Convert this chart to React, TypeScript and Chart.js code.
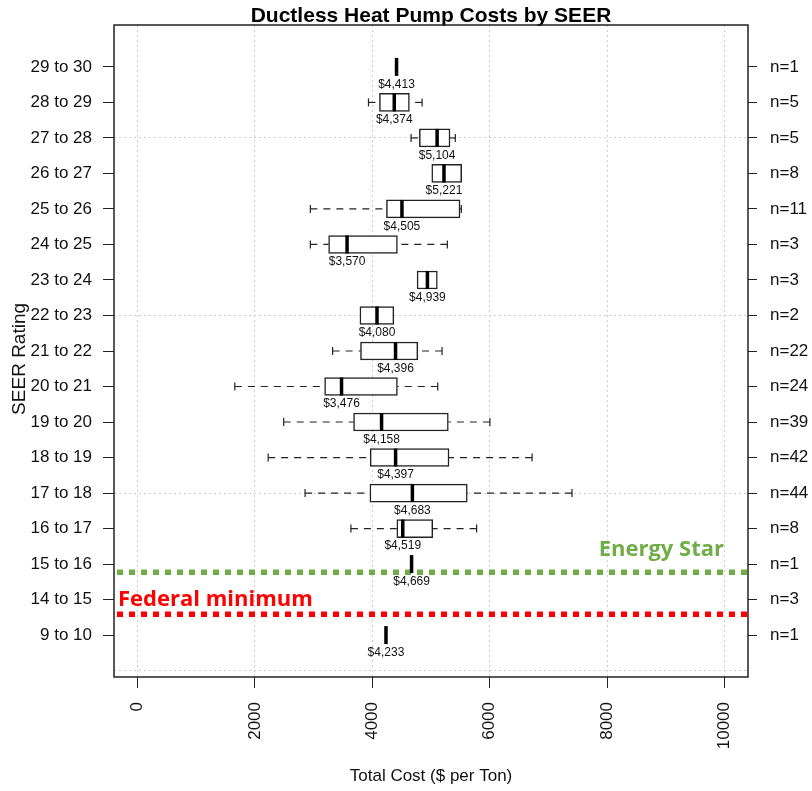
import React, { useEffect, useRef } from 'react';
import { Chart, registerables } from 'chart.js';

Chart.register(...registerables);

const categories = [
  '29 to 30', '28 to 29', '27 to 28', '26 to 27', '25 to 26', '24 to 25',
  '23 to 24', '22 to 23', '21 to 22', '20 to 21', '19 to 20', '18 to 19',
  '17 to 18', '16 to 17', '15 to 16', '14 to 15', '9 to 10',
];
const counts = [1, 5, 5, 8, 11, 3, 3, 2, 22, 24, 39, 42, 44, 8, 1, 3, 1];
const whiskerLow = [null, 3935, 4661, null, 2945, 2945, null, null, 3324, 1658, 2491, 2226, 2855, 3636, null, null, null];
const q1 = [null, 4122, 4802, 5013, 4241, 3256, 4763, 3789, 3799, 3188, 3681, 3964, 3959, 4418, null, null, null];
const medians = [4413, 4374, 5104, 5221, 4505, 3570, 4939, 4080, 4396, 3476, 4158, 4397, 4683, 4519, 4669, null, 4233];
const q3 = [null, 4632, 5324, 5522, 5494, 4428, 5108, 4367, 4775, 4428, 5295, 5307, 5618, 5030, null, null, null];
const whiskerHigh = [null, 4848, 5414, null, 5516, 5278, null, null, 5188, 5115, 6003, 6722, 7402, 5777, null, null, null];
const xTickValues = [0, 2000, 4000, 6000, 8000, 10000];
const energyStarLevel = 2.77;
const federalMinLevel = 1.59;

const FONT = '"Liberation Sans", Arial, sans-serif';
const rowValue = (i: number) => categories.length - i;
const yTickValues = [0, ...categories.map((_, i) => i + 1)];

const boxPlugin = {
  id: 'boxExtras',
  beforeDatasetsDraw(chart: any) {
    const { ctx, scales } = chart;
    const x = scales.x, y = scales.y;
    ctx.save();
    ctx.strokeStyle = '#222';
    ctx.lineWidth = 1.2;
    categories.forEach((_, i) => {
      const py = y.getPixelForValue(rowValue(i));
      const pairs: [number | null, number | null][] = [[whiskerLow[i], q1[i]], [whiskerHigh[i], q3[i]]];
      for (const [w, b] of pairs) {
        if (w == null || b == null) continue;
        const pw = x.getPixelForValue(w);
        const pb = x.getPixelForValue(b);
        ctx.setLineDash([7, 6]);
        ctx.beginPath();
        ctx.moveTo(pw, py);
        ctx.lineTo(pb, py);
        ctx.stroke();
        ctx.setLineDash([]);
        ctx.beginPath();
        ctx.moveTo(pw, py - 4);
        ctx.lineTo(pw, py + 4);
        ctx.stroke();
      }
    });
    ctx.restore();
  },
  afterDatasetsDraw(chart: any) {
    const { ctx, scales, chartArea } = chart;
    const x = scales.x, y = scales.y;
    ctx.save();
    const drawRef = (level: number, color: string) => {
      const py = y.getPixelForValue(level);
      ctx.strokeStyle = color;
      ctx.lineWidth = 5.5;
      ctx.setLineDash([6, 6]);
      ctx.beginPath();
      ctx.moveTo(chartArea.left + 3, py);
      ctx.lineTo(chartArea.right, py);
      ctx.stroke();
      ctx.setLineDash([]);
      return py;
    };
    const pg = drawRef(energyStarLevel, '#70AD47');
    const pr = drawRef(federalMinLevel, '#FF0000');
    ctx.font = 'bold 22px "Open Sans", sans-serif';
    ctx.textBaseline = 'alphabetic';
    ctx.fillStyle = '#70AD47';
    ctx.textAlign = 'right';
    ctx.fillText('Energy Star', chartArea.right - 24, pg - 16.5);
    ctx.fillStyle = '#FF0000';
    ctx.textAlign = 'left';
    ctx.fillText('Federal minimum', chartArea.left + 4, pr - 8.5);

    categories.forEach((_, i) => {
      const m = medians[i];
      if (m == null) return;
      const py = y.getPixelForValue(rowValue(i));
      const px = x.getPixelForValue(m);
      ctx.strokeStyle = '#000';
      ctx.lineWidth = 3.5;
      ctx.beginPath();
      ctx.moveTo(px, py - 9);
      ctx.lineTo(px, py + 9);
      ctx.stroke();
      ctx.fillStyle = '#111';
      ctx.font = '12px ' + FONT;
      ctx.textAlign = 'center';
      ctx.textBaseline = 'middle';
      ctx.fillText('$' + m.toLocaleString('en-US'), px, py + 17.5);
    });
    ctx.restore();
  },
  afterDraw(chart: any) {
    const { ctx, chartArea } = chart;
    ctx.save();
    ctx.strokeStyle = '#222';
    ctx.lineWidth = 1.5;
    ctx.strokeRect(chartArea.left, chartArea.top, chartArea.right - chartArea.left, chartArea.bottom - chartArea.top);
    ctx.restore();
  },
};

export default function App() {
  const ref = useRef<HTMLCanvasElement>(null);
  useEffect(() => {
    const boxData = categories
      .map((_, i) => (q1[i] != null && q3[i] != null ? { x: [q1[i], q3[i]], y: rowValue(i) } : null))
      .filter((d) => d !== null);
    const chart = new Chart(ref.current as HTMLCanvasElement, {
      type: 'bar',
      data: {
        datasets: [
          {
            label: 'IQR',
            data: boxData as any,
            backgroundColor: '#ffffff',
            borderColor: '#222',
            borderWidth: 1.5,
            borderSkipped: false,
            barThickness: 18,
            xAxisID: 'x',
            yAxisID: 'y',
          },
        ],
      },
      options: {
        indexAxis: 'y',
        animation: false,
        responsive: false,
        devicePixelRatio: 1,
        layout: { padding: 0 },
        plugins: {
          legend: { display: false },
          tooltip: { enabled: false },
          title: {
            display: true,
            fullSize: false,
            text: 'Ductless Heat Pump Costs by SEER',
            color: '#000',
            font: { family: FONT, size: 21, weight: 'bold', lineHeight: 0.8 },
            padding: { top: 8.2, bottom: 0 },
          },
        },
        scales: {
          x: {
            type: 'linear',
            position: 'bottom',
            min: -400,
            max: 10400,
            afterBuildTicks: (s: any) => { s.ticks = xTickValues.map((v) => ({ value: v })); },
            afterFit: (s: any) => { s.height = 114; },
            ticks: {
              autoSkip: false,
              minRotation: 90,
              maxRotation: 90,
              padding: 14,
              color: '#111',
              font: { family: FONT, size: 17 },
              callback: (v: any) => String(v),
            },
            grid: { color: '#cccccc', tickColor: '#222', tickLength: 11, lineWidth: 1 },
            border: { display: false, dash: [2, 3] },
            title: {
              display: true,
              text: 'Total Cost ($ per Ton)',
              color: '#111',
              font: { family: FONT, size: 17 },
              padding: { top: 0, bottom: 4 },
            },
          },
          y: {
            type: 'linear',
            position: 'left',
            min: -0.18,
            max: 18.18,
            offset: false,
            afterBuildTicks: (s: any) => { s.ticks = yTickValues.map((v) => ({ value: v })); },
            afterFit: (s: any) => { s.width = 114; },
            ticks: {
              autoSkip: false,
              padding: 11,
              color: '#111',
              font: { family: FONT, size: 17 },
              callback: (v: any) => (v === 0 ? '' : categories[categories.length - v]),
            },
            grid: {
              offset: false,
              color: (c: any) => (c.tick && c.tick.value % 5 === 0 ? '#cccccc' : 'rgba(0,0,0,0)'),
              tickColor: (c: any) => (c.tick && c.tick.value === 0 ? 'rgba(0,0,0,0)' : '#222'),
              tickLength: 11,
              lineWidth: 1,
            },
            border: { display: false, dash: [2, 3] },
            title: {
              display: true,
              text: 'SEER Rating   ',
              color: '#111',
              font: { family: FONT, size: 19 },
              padding: { top: 8, bottom: 0 },
            },
          },
          y2: {
            type: 'linear',
            position: 'right',
            min: -0.18,
            max: 18.18,
            offset: false,
            afterBuildTicks: (s: any) => { s.ticks = categories.map((_, i) => ({ value: i + 1 })); },
            afterFit: (s: any) => { s.width = 64; },
            ticks: {
              autoSkip: false,
              padding: 13,
              color: '#111',
              font: { family: FONT, size: 17 },
              callback: (v: any) => 'n=' + counts[categories.length - v],
            },
            grid: { offset: false, drawOnChartArea: false, tickColor: '#222', tickLength: 9 },
            border: { display: false },
          },
        },
      } as any,
      plugins: [boxPlugin],
    });
    return () => chart.destroy();
  }, []);
  return (
    <div style={{ position: 'absolute', left: 0, top: 0, width: 812, height: 791, background: '#fff' }}>
      <canvas ref={ref} width={812} height={791} style={{ display: 'block', width: 812, height: 791 }} />
    </div>
  );
}
